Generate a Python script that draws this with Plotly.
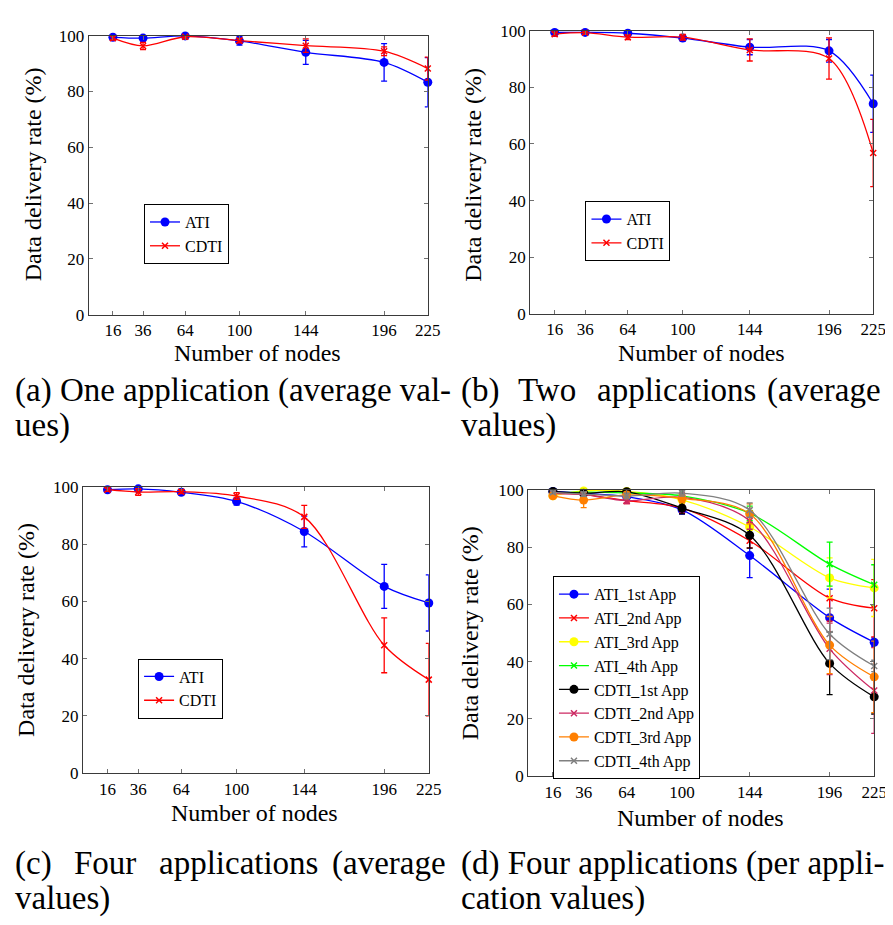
import plotly.graph_objects as go

W, H = 893, 925
FONT = "Liberation Serif, Times New Roman, Times, DejaVu Serif, serif"

nodes = [16, 36, 64, 100, 144, 196, 225]
y_ticks = [0, 20, 40, 60, 80, 100]

# (a) one application
a_ati = [99.4, 99.1, 99.9, 98.1, 94.0, 90.4, 83.3]
a_ati_err = [0.8, 0.8, 1.0, 1.5, 4.3, 6.7, 8.8]
a_cdti = [99.1, 96.3, 99.6, 98.2, 96.4, 94.4, 88.2]
a_cdti_err = [0.7, 1.3, 0.8, 0.8, 2.4, 1.6, 4.1]

# (b) two applications
b_ati = [99.4, 99.4, 99.1, 97.4, 94.2, 92.9, 74.2]
b_ati_err = [0.5, 0.5, 0.6, 1.0, 2.7, 4.0, 10.1]
b_cdti = [98.8, 99.3, 97.7, 97.7, 93.2, 90.2, 56.8]
b_cdti_err = [0.7, 0.6, 0.8, 1.0, 3.9, 7.3, 11.9]

# (c) four applications (average)
c_ati = [99.1, 99.4, 98.2, 95.0, 84.5, 65.3, 59.5]
c_ati_err = [0.6, 0.5, 0.6, 1.3, 5.4, 7.7, 9.8]
c_cdti = [99.1, 98.3, 98.4, 96.9, 89.6, 44.7, 32.7]
c_cdti_err = [0.6, 1.2, 0.7, 1.2, 4.0, 9.6, 12.7]

# (d) four applications (per application)
d_names = ["ATI_1st App", "ATI_2nd App", "ATI_3rd App", "ATI_4th App",
           "CDTI_1st App", "CDTI_2nd App", "CDTI_3rd App", "CDTI_4th App"]
d_ati_1 = [99.5, 98.9, 97.7, 93.1, 77.1, 55.4, 46.8]
d_ati_2 = [99.2, 98.5, 96.3, 93.7, 82.3, 62.2, 58.7]
d_ati_3 = [98.0, 99.7, 99.5, 96.6, 87.1, 69.3, 65.8]
d_ati_4 = [99.0, 99.3, 99.0, 98.0, 91.9, 74.1, 66.9]
d_cdti_1 = [99.5, 98.9, 99.4, 93.7, 84.2, 39.4, 27.7]
d_cdti_2 = [98.8, 98.4, 96.3, 97.5, 89.3, 44.5, 29.9]
d_cdti_3 = [98.0, 96.5, 98.3, 97.1, 91.7, 45.8, 34.7]
d_cdti_4 = [99.2, 98.6, 97.9, 98.9, 93.0, 49.7, 38.5]
d_ati_1_err = [0.5, 0.8, 1.0, 1.5, 7.7, 10.0, 1.5]
d_ati_2_err = [0.5, 0.8, 1.0, 1.8, 2.5, 8.0, 10.0]
d_ati_3_err = [0.5, 0.5, 0.5, 1.0, 2.0, 7.0, 10.0]
d_ati_4_err = [0.5, 0.5, 0.5, 2.0, 2.5, 7.7, 7.0]
d_cdti_1_err = [0.5, 0.8, 0.5, 2.0, 4.5, 10.9, 6.0]
d_cdti_2_err = [0.5, 0.8, 1.0, 1.5, 3.0, 9.0, 15.0]
d_cdti_3_err = [0.6, 2.6, 1.0, 1.5, 3.5, 10.0, 12.5]
d_cdti_4_err = [0.5, 0.8, 1.0, 1.0, 2.5, 9.0, 2.0]

d_values = [d_ati_1, d_ati_2, d_ati_3, d_ati_4, d_cdti_1, d_cdti_2, d_cdti_3, d_cdti_4]
d_errors = [d_ati_1_err, d_ati_2_err, d_ati_3_err, d_ati_4_err,
            d_cdti_1_err, d_cdti_2_err, d_cdti_3_err, d_cdti_4_err]
d_colors = ["#0000ff", "#ff0000", "#ffff00", "#00ff00",
            "#000000", "#cc2962", "#ff7f00", "#808080"]
d_symbols = ["circle", "x", "circle", "x", "circle", "x", "circle", "x"]


def px(x):
    return x / W


def py(y):
    return 1 - y / H


fig = go.Figure()

# panel geometry in pixels: (left, right, top, bottom)
panels = {
    1: (82, 426, 19, 304),
    2: (530, 878, 14, 303),
    3: (76, 427, 480, 772),
    4: (528, 879, 483, 775),
}
legend_pos = {1: (138, 191), 2: (586, 188), 3: (132, 655), 4: (553, 571)}


def add_series(panel, name, vals, errs, color, symbol):
    xa = "x" if panel == 1 else f"x{panel}"
    ya = "y" if panel == 1 else f"y{panel}"
    lg = "legend" if panel == 1 else f"legend{panel}"
    if symbol == "circle":
        marker = dict(symbol="circle", size=9, color=color)
    else:
        marker = dict(symbol="x-thin", size=6, color=color,
                      line=dict(color=color, width=1.5))
    fig.add_trace(go.Scatter(
        x=nodes, y=vals, name=name, xaxis=xa, yaxis=ya, legend=lg,
        mode="lines+markers",
        line=dict(color=color, width=1.3, shape="spline", smoothing=0.9),
        marker=marker,
        error_y=dict(type="data", array=errs, visible=True, color=color,
                     thickness=1.3, width=3),
        cliponaxis=False,
    ))


add_series(1, "ATI", a_ati, a_ati_err, "#0000ff", "circle")
add_series(1, "CDTI", a_cdti, a_cdti_err, "#ff0000", "x")
add_series(2, "ATI", b_ati, b_ati_err, "#0000ff", "circle")
add_series(2, "CDTI", b_cdti, b_cdti_err, "#ff0000", "x")
add_series(3, "ATI", c_ati, c_ati_err, "#0000ff", "circle")
add_series(3, "CDTI", c_cdti, c_cdti_err, "#ff0000", "x")
for n, v, e, c, s in zip(d_names, d_values, d_errors, d_colors, d_symbols):
    add_series(4, n, v, e, c, s)

axis_common = dict(
    showline=True, linecolor="#3a3a3a", linewidth=1.2, mirror="ticks",
    ticks="inside", ticklen=4, tickcolor="#707070", tickwidth=1,
    showgrid=False, zeroline=False,
    tickfont=dict(family=FONT, size=17, color="black"),
)

layout = dict(
    width=W, height=H,
    margin=dict(l=0, r=0, t=0, b=0),
    paper_bgcolor="white", plot_bgcolor="white",
    font=dict(family=FONT, color="black"),
)

for p, (l, r, t, b) in panels.items():
    sx = "" if p == 1 else str(p)
    layout[f"xaxis{sx}"] = dict(
        axis_common, domain=[px(l), px(r)], range=[0, 225],
        tickvals=nodes, anchor=f"y{sx}",
    )
    layout[f"yaxis{sx}"] = dict(
        axis_common, domain=[py(b), py(t)], range=[0, 100],
        tickvals=y_ticks, anchor=f"x{sx}",
    )
    lx, ly = legend_pos[p]
    lkey = "legend" if p == 1 else f"legend{p}"
    layout[lkey] = dict(
        x=px(lx), y=py(ly), xanchor="left", yanchor="top",
        bgcolor="white", bordercolor="black", borderwidth=1,
        font=dict(family=FONT, size=16, color="black"),
        tracegroupgap=0,
    )

fig.update_layout(**layout)

annotations = []
# axis titles
xtitles = [(253, 343), (704, 343), (250, 813), (703, 818)]
ytitles = [(25, 161), (472, 161), (18, 626), (469, 629)]
for (x, y) in xtitles:
    annotations.append(dict(text="Number of nodes", x=px(x), y=py(y),
                            xref="paper", yref="paper", showarrow=False,
                            xanchor="center", yanchor="middle",
                            font=dict(family=FONT, size=24, color="black")))
for (x, y) in ytitles:
    annotations.append(dict(text="Data delivery rate (%)", x=px(x), y=py(y),
                            xref="paper", yref="paper", showarrow=False,
                            textangle=-90, xanchor="center", yanchor="middle",
                            font=dict(family=FONT, size=24, color="black")))

# captions (justified lines are split into words)
CAP = 33
Y1, Y2 = 381, 417
Y3, Y4 = 864, 900
cap_words = [
    # (text, x, y, anchor)
    ("(a) One application (average val-", 5, Y1, "left"),
    ("ues)", 5, Y2, "left"),
    ("(b)", 458, Y1, "left"),
    ("Two", 516, Y1, "left"),
    ("applications", 596, Y1, "left"),
    ("(average", 888, Y1, "right"),
    ("values)", 458, Y2, "left"),
    ("(c)", 5, Y3, "left"),
    ("Four", 65, Y3, "left"),
    ("applications", 151, Y3, "left"),
    ("(average", 447, Y3, "right"),
    ("values)", 5, Y4, "left"),
    ("(d) Four applications (per appli-", 458, Y3, "left"),
    ("cation values)", 458, Y4, "left"),
]
for t, x, y, a in cap_words:
    annotations.append(dict(text=t, x=px(x), y=py(y), xref="paper", yref="paper",
                            showarrow=False, xanchor=a, yanchor="middle",
                            font=dict(family=FONT, size=CAP, color="black")))

fig.update_layout(annotations=annotations)
fig.write_html("out.html")
